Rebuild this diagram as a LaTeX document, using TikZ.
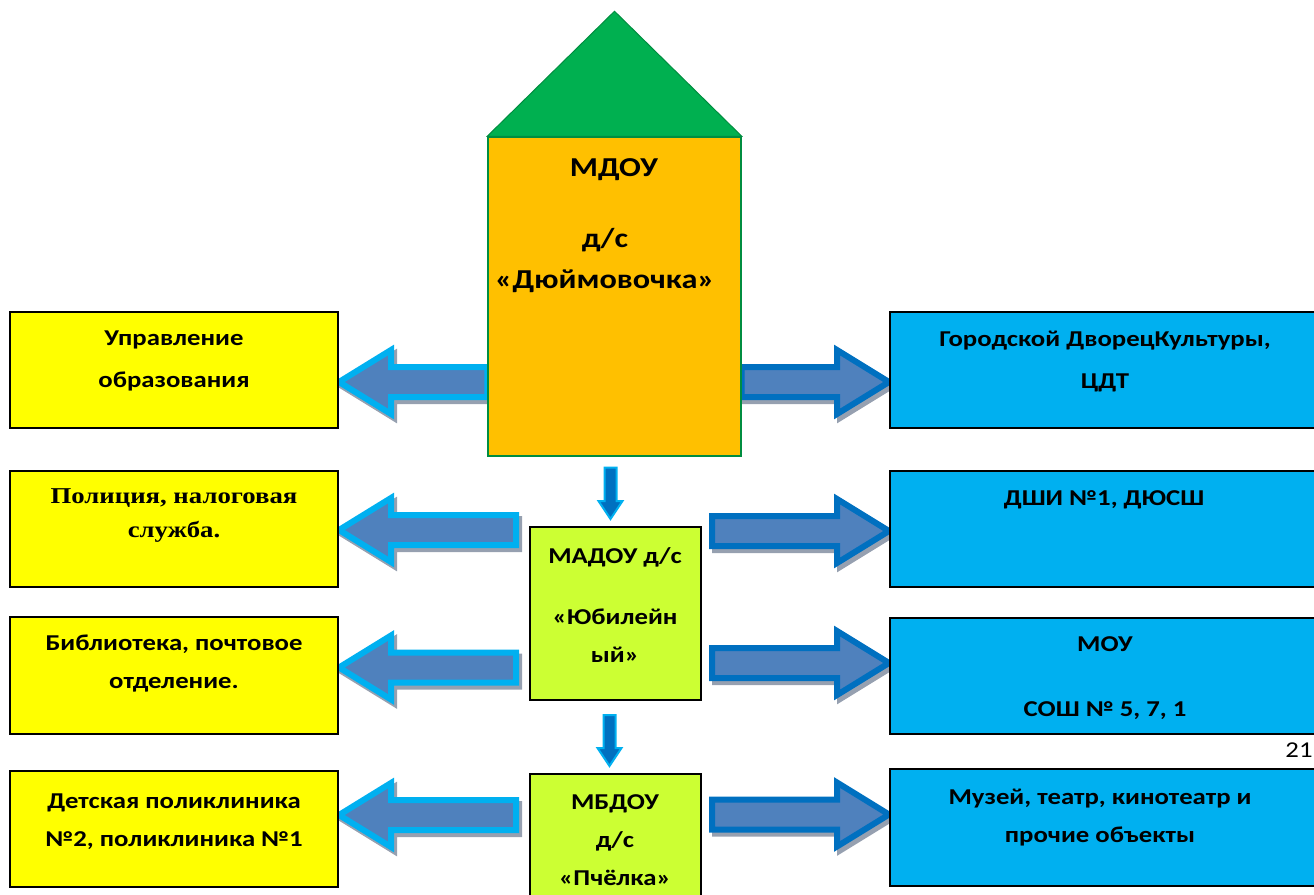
\documentclass[tikz,border=0pt]{standalone}
\usepackage{fontspec}
\setmainfont{Carlito}[FakeStretch=1.18]
\newfontfamily\policefont{Liberation Serif}[FakeStretch=1.18]
\usepackage{tikz}
\usetikzlibrary{calc}
\usetikzlibrary{backgrounds}

\definecolor{roofgreen}{RGB}{0,176,80}
\definecolor{housegold}{RGB}{255,192,0}
\definecolor{boxyellow}{RGB}{255,255,0}
\definecolor{boxblue}{RGB}{0,176,240}
\definecolor{boxlime}{RGB}{204,255,51}
\definecolor{arrowfill}{RGB}{79,129,189}
\definecolor{rimlight}{RGB}{0,176,240}
\definecolor{rimdark}{RGB}{0,112,192}
\definecolor{arrowshade}{RGB}{150,160,176}

% #1 tail, #2 tip, #3 direction (1 = to the left, -1 = to the right), #4 #5 offset
\newcommand{\arrowpath}[5]{($(#2)+(#4,#5)$) -- ($(#2)+(#3*52+#4,-32+#5)$) -- ($(#2)+(#3*52+#4,-15+#5)$)
  -- ($(#1 |- #2)+(#4,-15+#5)$) -- ($(#1 |- #2)+(#4,15+#5)$)
  -- ($(#2)+(#3*52+#4,15+#5)$) -- ($(#2)+(#3*52+#4,32+#5)$) -- cycle}
\newcommand{\blockarrow}[4]{%
  \draw[fill=arrowshade, draw=arrowshade, line width=4.5pt, line join=miter] \arrowpath{#1}{#2}{#4}{3}{4};
  \draw[fill=arrowfill, draw=#3, line width=4.5pt, line join=miter] \arrowpath{#1}{#2}{#4}{0}{0};}
% #1 tail, #2 tip
\newcommand{\downblock}[2]{%
  \draw[fill=rimdark, draw=rimlight, line width=1.5pt, line join=miter] (#2) -- ($(#2)+(-12,-18)$) -- ($(#2)+(-6,-18)$)
  -- ($(#1 -| #2)+(-6,0)$) -- ($(#1 -| #2)+(6,0)$) -- ($(#2)+(6,-18)$) -- ($(#2)+(12,-18)$) -- cycle;}

\begin{document}
\begin{tikzpicture}[x=0.75pt,y=0.75pt,yscale=-1,xscale=1,
  box/.style={rectangle, draw=black, line width=1.5pt, inner sep=0pt},
  side/.style={box, minimum width=246pt, minimum height=87.5pt, fill=boxyellow},
  partner/.style={box, minimum width=322.5pt, minimum height=87.5pt, fill=boxblue},
  txt/.style={font=\bfseries\fontsize{17}{28.5}\selectfont, align=center, inner sep=0pt},
  bigtxt/.style={font=\bfseries\fontsize{20.5}{30.75}\selectfont, align=center, inner sep=0pt}]
\useasboundingbox (0,0) rectangle (1314,895);

%Shape: House body
\node [box, draw=roofgreen!80!black, line width=1.1pt, fill=housegold, minimum width=189.75pt, minimum height=239.25pt] (mdou) at (614.5,296.5) {};
%Shape: Roof
\draw [fill=roofgreen, draw=roofgreen!80!black, line width=0.75pt] (mdou.north west) -- (mdou.north east) -- ($(mdou.north)+(0,-125)$) -- cycle;

%Shape: Kindergartens below
\node [box, fill=boxlime, minimum width=128.25pt, minimum height=129.75pt] (madou) at (615.5,613.5) {};
\node [box, fill=boxlime, minimum width=128.25pt, minimum height=96pt] (mbdou) at (615.5,838) {};

%Shape: Left boxes
\node [side] (lb1) at (174,370) {};
\node [side] (lb2) at (174,529) {};
\node [side] (lb3) at (174,675.5) {};
\node [side] (lb4) at (174,829) {};
%Shape: Right boxes
\node [partner] (rb1) at (1105,370) {};
\node [partner] (rb2) at (1105,529) {};
\node [partner] (rb3) at (1105,676) {};
\node [partner] (rb4) at (1105,827.5) {};

% Text Node
\node [bigtxt] (t-mdou) at (614,170) {МДОУ};
\node [bigtxt] (t-dju) at (605,261) {д/с\\«Дюймовочка»};
\node [txt] (t-madou) at (615,605) {МАДОУ д/с\\[17pt]«Юбилейн\\ый»};
\node [txt] (t-mbdou) at (615,840) {МБДОУ\\д/с\\«Пчёлка»};
\node [txt] (t-lb1) at (174,361) {Управление\\[3pt]образования};
\node [txt, font=\policefont\bfseries\fontsize{17}{25.5}\selectfont] (t-lb2) at (174,516) {Полиция, налоговая\\служба.};
\node [txt] (t-lb3) at (174,664) {Библиотека, почтовое\\отделение.};
\node [txt] (t-lb4) at (174,822) {Детская поликлиника\\№2, поликлиника №1};
\node [txt] (t-rb1) at (1105,361) {Городской ДворецКультуры,\\[3pt]ЦДТ};
\node [txt] (t-rb2) at (1104,500) {ДШИ №1, ДЮСШ};
\node [txt] (t-rb3) at (1105,678) {МОУ\\[20.25pt]СОШ № 5, 7, 1};
\node [txt] (t-rb4) at (1100,818) {Музей, театр, кинотеатр и\\прочие объекты};
\node [font=\fontsize{17}{19}\selectfont, inner sep=0pt] (pagenum) at (1299,750) {21};

%Arrow ends
\coordinate (gapL) at ($(madou.west)+(-13,0)$);
\coordinate (gapR) at ($(madou.east)+(10,0)$);
\coordinate (tl1) at ($(lb1.east)+(0,12)$);
\coordinate (tl2) at ($(lb2.east)+(0,1)$);
\coordinate (tl3) at ($(lb3.east)+(0,-8)$);
\coordinate (tl4) at ($(lb4.east)+(0,-14)$);
\coordinate (tr1) at ($(rb1.west)+(0,12)$);
\coordinate (tr2) at ($(rb2.west)+(0,2)$);
\coordinate (tr3) at ($(rb3.west)+(0,-13)$);
\coordinate (tr4) at ($(rb4.west)+(0,-13)$);
\coordinate (d1top) at ($(mdou.south)+(-5,11)$);
\coordinate (d1tip) at ($(madou.north)+(-5,-7)$);
\coordinate (d2top) at ($(madou.south)+(-6,14)$);
\coordinate (d2tip) at ($(mbdou.north)+(-6,-7)$);

\begin{scope}[on background layer]
%Block arrows
\blockarrow{mdou.west}{tl1}{rimlight}{1}
\blockarrow{gapL}{tl2}{rimlight}{1}
\blockarrow{gapL}{tl3}{rimlight}{1}
\blockarrow{gapL}{tl4}{rimlight}{1}
\blockarrow{mdou.east}{tr1}{rimdark}{-1}
\blockarrow{gapR}{tr2}{rimdark}{-1}
\blockarrow{gapR}{tr3}{rimdark}{-1}
\blockarrow{gapR}{tr4}{rimdark}{-1}
\end{scope}
%Down arrows
\downblock{d1top}{d1tip}
\downblock{d2top}{d2tip}

\end{tikzpicture}
\end{document}
